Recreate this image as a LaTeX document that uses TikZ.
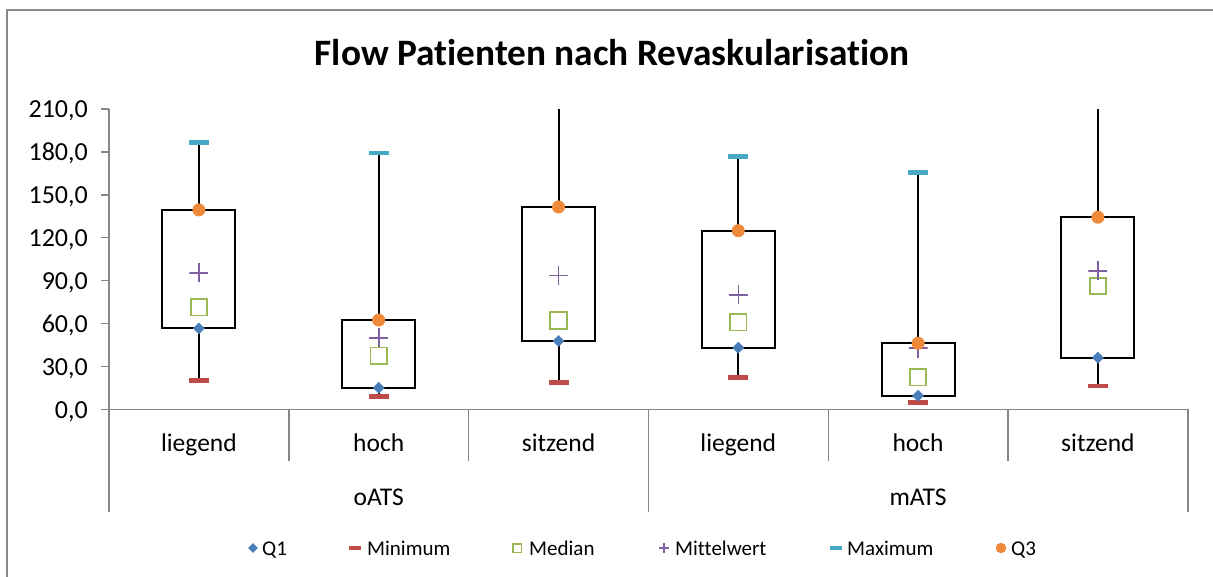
\documentclass[tikz,border=0pt]{standalone}
\usepackage{fontspec}
\setmainfont{Carlito}[Ligatures={NoCommon}]
\usetikzlibrary{shapes.geometric}

\definecolor{qonecol}{RGB}{74,126,187}
\definecolor{mincol}{RGB}{190,75,72}
\definecolor{medcol}{RGB}{152,185,84}
\definecolor{meancol}{RGB}{125,96,160}
\definecolor{maxcol}{RGB}{70,170,197}
\definecolor{qthreecol}{RGB}{240,137,58}
\definecolor{framecol}{RGB}{137,137,137}
\definecolor{axiscol}{RGB}{134,134,134}

\begin{document}
\begin{tikzpicture}[x=1pt,y=-1pt,
  chartframe/.style={draw=framecol, line width=2pt},
  axisline/.style={draw=axiscol, line width=1.4pt},
  boxline/.style={draw=black, line width=2pt},
  whisker/.style={draw=black, line width=2pt},
  q1mark/.style={diamond, fill=qonecol, inner sep=0pt, minimum size=#1},
  q1mark/.default=12pt,
  q3mark/.style={circle, fill=qthreecol, inner sep=0pt, minimum size=#1},
  q3mark/.default=13pt,
  minmark/.style={rectangle, fill=mincol, inner sep=0pt, minimum width=#1, minimum height=4.5pt},
  minmark/.default=20pt,
  maxmark/.style={rectangle, fill=maxcol, inner sep=0pt, minimum width=#1, minimum height=4.5pt},
  maxmark/.default=20pt,
  medmark/.style={rectangle, draw=medcol, line width=1.8pt, fill=white, inner sep=0pt, minimum size=#1},
  medmark/.default=16.5pt,
  meanmark/.style={rectangle, inner sep=0pt, minimum size=#1,
    path picture={\draw[meancol, line width=1.6pt]
      (path picture bounding box.north) -- (path picture bounding box.south)
      (path picture bounding box.west) -- (path picture bounding box.east);}},
  meanmark/.default=19pt,
  ticklabel/.style={font=\fontsize{26}{30}\selectfont, anchor=base east, inner sep=0pt},
  catlabel/.style={font=\fontsize{25.5}{30}\selectfont, anchor=base, inner sep=0pt},
  legtext/.style={font=\fontsize{21}{25}\selectfont, anchor=base west, inner sep=0pt},
]
\useasboundingbox (0,0) rectangle (1213,576);
\clip (0,0) rectangle (1213,576);
\fill[white] (0,0) rectangle (1213,576);

% chart area frame
\draw[chartframe] (7,9.5) rectangle (1240,600);

% title
\node[font=\bfseries\fontsize{37.3}{42}\selectfont, inner sep=0pt] (title) at (612,53)
  {Flow Patienten nach Revaskularisation};

% category separators below the horizontal axis
\foreach \k/\len in {0/512,1/461,2/461,3/512,4/461,5/461,6/512}{
  \coordinate (sepA-\k) at ({109+179.8*\k},409.3);
  \coordinate (sepB-\k) at ({109+179.8*\k},\len);
  \draw[axisline] (sepA-\k) -- (sepB-\k);
}

% category labels
\foreach \k/\txt in {0/liegend,1/hoch,2/sitzend,3/liegend,4/hoch,5/sitzend}{
  \node[catlabel] (cat-\k) at ({198.9+179.8*\k},451.5) {\txt};
}
\node[catlabel] (grp-o) at (378.7,505.5) {oATS};
\node[catlabel] (grp-m) at (918.1,505.5) {mATS};

% data area: value axis scaled so that 210 reaches the top of the plot
\begin{scope}[shift={(0,409.3)}, y={(0pt,1.43pt)}]
  % value axis with ticks and labels
  \foreach \v in {0,30,...,210}{
    \coordinate (tickA-\v) at (101,\v);
    \coordinate (tickB-\v) at (109,\v);
    \draw[axisline] (tickA-\v) -- (tickB-\v);
    \node[ticklabel] (tl-\v) at (88,\v-6.2) {\v,0};
  }
  \coordinate (yaxis-bot) at (109,0);
  \coordinate (yaxis-top) at (109,210);
  \coordinate (xaxis-left) at (101,0);
  \coordinate (xaxis-right) at (1187.8,0);
  \draw[axisline] (yaxis-bot) -- (yaxis-top);
  \draw[axisline] (xaxis-left) -- (xaxis-right);

  % boxes: index / centre / min / Q1 / median / mean / Q3 / whisker top
  \foreach \i/\cx/\mn/\qa/\md/\mw/\qc/\mx in {
      1/198.9/20.0/56.6/71.3/95.5/139.4/186.7,
      2/378.7/8.8/15.1/37.5/49.9/62.4/179.4,
      3/558.5/18.9/47.8/62.0/93.5/141.5/210,
      4/738.3/22.1/43.1/60.9/80.0/124.9/176.7,
      5/918.1/4.9/9.5/22.4/42.7/46.2/165.5,
      6/1097.9/16.3/36.1/86.3/96.8/134.3/210}{
    \coordinate (cmin-\i) at (\cx,\mn);
    \coordinate (cq1-\i) at (\cx,\qa);
    \coordinate (cq3-\i) at (\cx,\qc);
    \coordinate (top-\i) at (\cx,\mx);
    \draw[boxline] (\cx-36.5,\qa) rectangle (\cx+36.5,\qc);
    \draw[whisker] (cq3-\i) -- (top-\i);
    \draw[whisker] (cq1-\i) -- (cmin-\i);
    \node[minmark] (min-\i) at (cmin-\i) {};
    \node[medmark] (med-\i) at (\cx,\md) {};
    \node[meanmark] (mean-\i) at (\cx,\mw) {};
    \node[q1mark] (q1-\i) at (cq1-\i) {};
    \node[q3mark] (q3-\i) at (cq3-\i) {};
  }
  % maxima inside the plotted range
  \foreach \i in {1,2,4,5}{
    \node[maxmark] (max-\i) at (top-\i) {};
  }
\end{scope}

% legend
\node[q1mark=10pt] (lg-q1m) at (253,548) {};
\node[legtext] (lg-q1) at (262,555) {Q1};
\node[minmark=12pt] (lg-minm) at (355,548) {};
\node[legtext] (lg-min) at (367,555) {Minimum};
\node[medmark=8.5pt, line width=1.5pt] (lg-medm) at (517,548) {};
\node[legtext] (lg-med) at (529,555) {Median};
\node[meanmark=10pt] (lg-meanm) at (664,548) {};
\node[legtext] (lg-mean) at (675,555) {Mittelwert};
\node[maxmark=12pt] (lg-maxm) at (836,548) {};
\node[legtext] (lg-max) at (847,555) {Maximum};
\node[q3mark=10.5pt] (lg-q3m) at (1001,548) {};
\node[legtext] (lg-q3) at (1011,555) {Q3};
\end{tikzpicture}
\end{document}
